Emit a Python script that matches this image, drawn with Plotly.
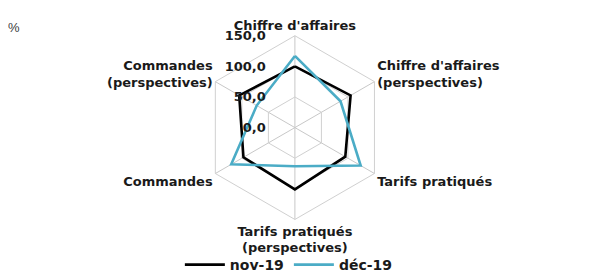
import plotly.graph_objects as go

categories = [
    "Chiffre d'affaires",
    "Chiffre d'affaires<br>(perspectives)",
    "Tarifs pratiqués",
    "Tarifs pratiqués<br>(perspectives)",
    "Commandes",
    "Commandes<br>(perspectives)",
]
nov_19 = [100, 105, 95, 101, 97, 105]
dec_19 = [117, 86, 124, 63, 120, 72]
radial_ticks = [0, 50, 100, 150]
series_names = ["nov-19", "déc-19"]

FONT = "DejaVu Sans"

def closed(v):
    return list(v) + [v[0]]

fig = go.Figure()
fig.add_trace(go.Scatterpolar(
    r=closed(nov_19), theta=closed(categories), mode="lines",
    name=series_names[0], line=dict(color="#000000", width=2.6),
))
fig.add_trace(go.Scatterpolar(
    r=closed(dec_19), theta=closed(categories), mode="lines",
    name=series_names[1], line=dict(color="#4BACC6", width=2.6),
))

fig.update_layout(
    width=604, height=273,
    margin=dict(l=0, r=0, t=0, b=0),
    paper_bgcolor="white",
    separators=", ",
    font=dict(family=FONT, size=13, color="#1a1a1a", weight="bold"),
    polar=dict(
        domain=dict(x=[0.075, 0.875], y=[0.199, 0.895]),
        bgcolor="white",
        gridshape="linear",
        angularaxis=dict(
            direction="clockwise", rotation=90,
            categoryorder="array", categoryarray=categories,
            showline=True, linecolor="#d0d0d0", linewidth=1,
            gridcolor="#c8c8c8", gridwidth=1,
            tickfont=dict(family=FONT, size=13, color="#1a1a1a", weight="bold"),
            ticks="",
        ),
        radialaxis=dict(
            range=[0, 150], tickvals=radial_ticks, tickformat=".1f",
            angle=90, side="counterclockwise", tickangle=90,
            showline=False, gridcolor="#d0d0d0", gridwidth=1,
            ticks="outside", ticklen=24, tickcolor="rgba(0,0,0,0)",
            tickfont=dict(family=FONT, size=13, color="#1a1a1a", weight="bold"),
        ),
    ),
    showlegend=True,
    legend=dict(
        orientation="h", x=0.465, xanchor="center", y=0.026, yanchor="middle",
        font=dict(family=FONT, size=14, color="#1a1a1a", weight="bold"),
        bgcolor="rgba(0,0,0,0)", itemwidth=40,
    ),
    annotations=[dict(
        text="%", x=0, y=1, xref="paper", yref="paper",
        xanchor="left", yanchor="top", xshift=-2, yshift=-10,
        showarrow=False, font=dict(family="Liberation Sans", size=13, color="#404040", weight="normal"),
    )],
)

fig.write_html("out.html")
